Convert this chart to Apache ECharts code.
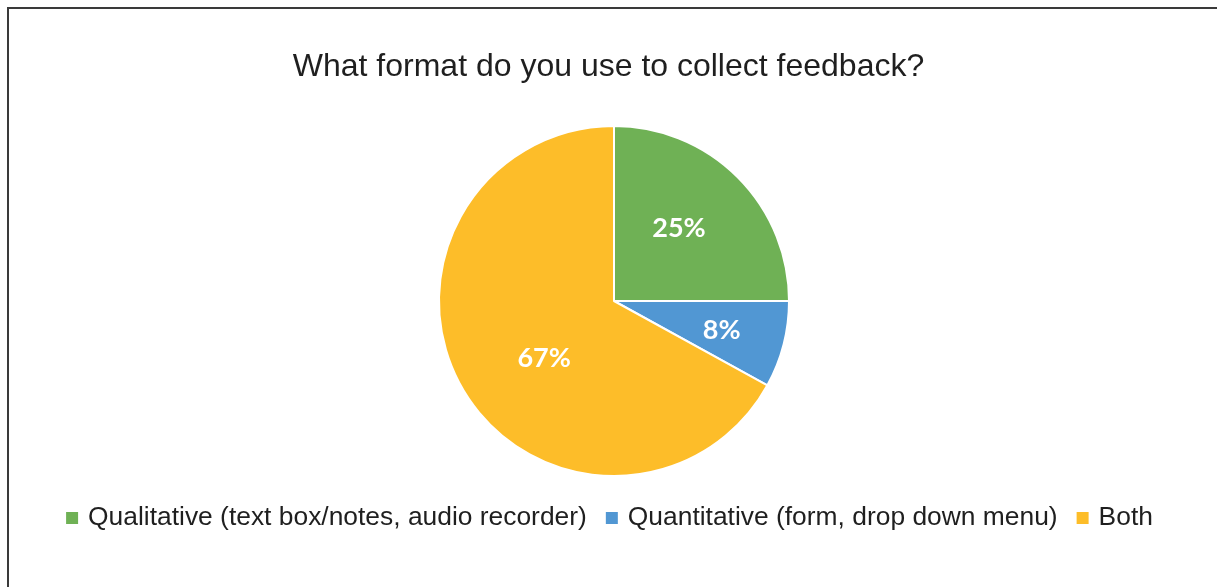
<!DOCTYPE html>
<html>
<head>
<meta charset="utf-8">
<script src="https://cdn.jsdelivr.net/npm/echarts@6/dist/echarts.min.js"></script>
<style>
  html, body { margin: 0; padding: 0; background: #ffffff; }
  #frame {
    position: absolute; left: 0; top: 0; width: 1217px; height: 587px; overflow: hidden;
  }
  #box {
    position: absolute; left: 7px; top: 7px; width: 1300px; height: 700px;
    border-left: 2px solid #3a3a3a; border-top: 2px solid #3a3a3a;
  }
  #chart { position: absolute; left: 0; top: 0; width: 1217px; height: 587px; }
</style>
</head>
<body>
<div id="frame">
  <div id="box"></div>
  <div id="chart"></div>
</div>
<script>
// Survey answers, share of respondents in percent
const categories = [
  'Qualitative (text box/notes, audio recorder)',
  'Quantitative (form, drop down menu)',
  'Both'
];
const shares = [25, 8, 67];
const sliceColors = ['#6fb155', '#5197d3', '#fdbd29'];
const titleText = 'What format do you use to collect feedback?';

// nudges for the percentage labels inside each slice
const labelOffsets = [[1, -9], [20, 7], [8, 11]];

const chart = echarts.init(document.getElementById('chart'), null, { renderer: 'canvas' });

chart.setOption({
  animation: false,
  backgroundColor: 'transparent',
  title: {
    text: titleText,
    left: 'center',
    top: 46,
    textStyle: {
      fontFamily: "'Liberation Sans', Arial, sans-serif",
      fontSize: 32,
      fontWeight: 'normal',
      color: '#1f1f1f'
    }
  },
  legend: {
    data: categories,
    left: 'center',
    top: 500,
    itemWidth: 14,
    itemHeight: 14,
    itemGap: 17,
    icon: 'rect',
    textStyle: {
      fontFamily: "'Liberation Sans', Arial, sans-serif",
      fontSize: 26.4,
      color: '#1f1f1f',
      padding: [0, 0, 0, 4]
    }
  },
  series: [{
    type: 'pie',
    center: [614, 301],
    radius: 175,
    startAngle: 90,
    clockwise: true,
    data: categories.map((name, i) => ({
      name,
      value: shares[i],
      itemStyle: { color: sliceColors[i] },
      label: { offset: labelOffsets[i] }
    })),
    itemStyle: { borderColor: '#ffffff', borderWidth: 2 },
    label: {
      show: true,
      position: 'inside',
      formatter: p => Math.round(p.value) + '%',
      fontFamily: 'Lato, "Open Sans", sans-serif',
      fontWeight: 'bold',
      fontSize: 27,
      color: '#ffffff'
    },
    labelLine: { show: false },
    emphasis: { disabled: true }
  }]
});
</script>
</body>
</html>
